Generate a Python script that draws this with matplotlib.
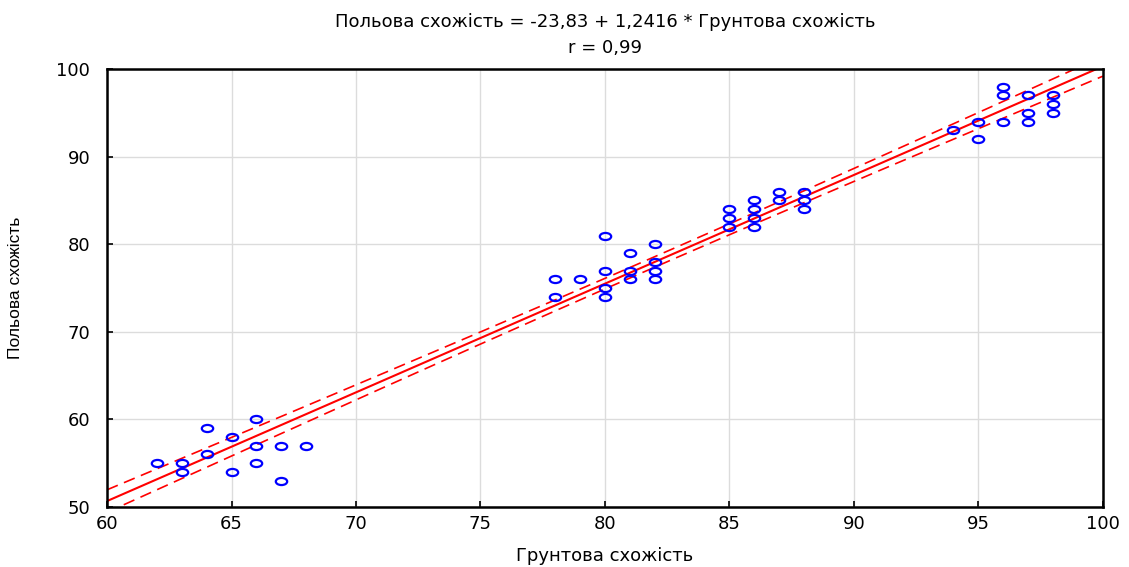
import numpy as np
import matplotlib
matplotlib.use("Agg")
import matplotlib.pyplot as plt
from matplotlib.path import Path
from matplotlib.transforms import Affine2D

# Data
x_vals = [62, 63, 63, 64, 64, 65, 65, 66, 66, 66, 67, 67, 68,
          78, 78, 79, 80, 80, 80, 80, 81, 81, 81, 82, 82, 82, 82,
          85, 85, 85, 86, 86, 86, 86, 87, 87, 88, 88, 88,
          94, 95, 95, 96, 96, 96, 97, 97, 97, 98, 98, 98]
y_vals = [55, 55, 54, 59, 56, 58, 54, 60, 57, 55, 57, 53, 57,
          76, 74, 76, 81, 77, 75, 74, 79, 77, 76, 80, 78, 77, 76,
          84, 83, 82, 85, 84, 83, 82, 86, 85, 86, 85, 84,
          93, 94, 92, 98, 97, 94, 97, 95, 94, 97, 96, 95]
intercept = -23.83
slope = 1.2416
t_crit = 2.018

x_ticks = [60, 65, 70, 75, 80, 85, 90, 95, 100]
y_ticks = [50, 60, 70, 80, 90, 100]

title = "Польова схожість = -23,83 + 1,2416 * Грунтова схожість\nr = 0,99"
xlabel = "Грунтова схожість"
ylabel = "Польова схожість"

plt.rcParams['font.family'] = ['DejaVu Sans']

fig = plt.figure(figsize=(11.29, 5.67), dpi=100)
ax = fig.add_axes([0.0948, 0.106, 0.882, 0.772])

x = np.array(x_vals, float)
y = np.array(y_vals, float)
n = len(x)
xx = np.linspace(60, 100, 300)
yy = intercept + slope * xx
resid = y - (intercept + slope * x)
s = np.sqrt(np.sum(resid ** 2) / (n - 2))
sxx = np.sum((x - x.mean()) ** 2)
half = t_crit * s * np.sqrt(1.0 / n + (xx - x.mean()) ** 2 / sxx)

ell = Path.unit_circle().transformed(Affine2D().scale(1.6, 1.0))
ax.plot(x, y, linestyle='none', marker=ell, markersize=8.2,
        markerfacecolor='none', markeredgecolor='#0000ff', markeredgewidth=1.6, zorder=3)
ax.plot(xx, yy, color='#ff0000', lw=1.5, zorder=2)
ax.plot(xx, yy + half, color='#ff0000', lw=1.2, dashes=(7, 4), zorder=2)
ax.plot(xx, yy - half, color='#ff0000', lw=1.2, dashes=(7, 4), zorder=2)

ax.set_xlim(60, 100)
ax.set_ylim(50, 100)
ax.set_xticks(x_ticks)
ax.set_yticks(y_ticks)
ax.grid(True, color='#dcdcdc', lw=1.0)
ax.set_axisbelow(True)
for sp in ax.spines.values():
    sp.set_linewidth(1.8)
    sp.set_color('black')
ax.tick_params(direction='in', length=4, width=1.2, labelsize=13, top=False, right=False)
ax.tick_params(axis='y', pad=12)
ax.tick_params(axis='x', pad=6)

ax.set_title(title, fontsize=13, linespacing=1.55, pad=12)
ax.set_xlabel(xlabel, fontsize=13, labelpad=10)
ax.set_ylabel(ylabel, fontsize=12.5, labelpad=24,
              family=['Liberation Sans Narrow', 'Liberation Sans', 'DejaVu Sans'])

fig.savefig("out.png", dpi=100)
